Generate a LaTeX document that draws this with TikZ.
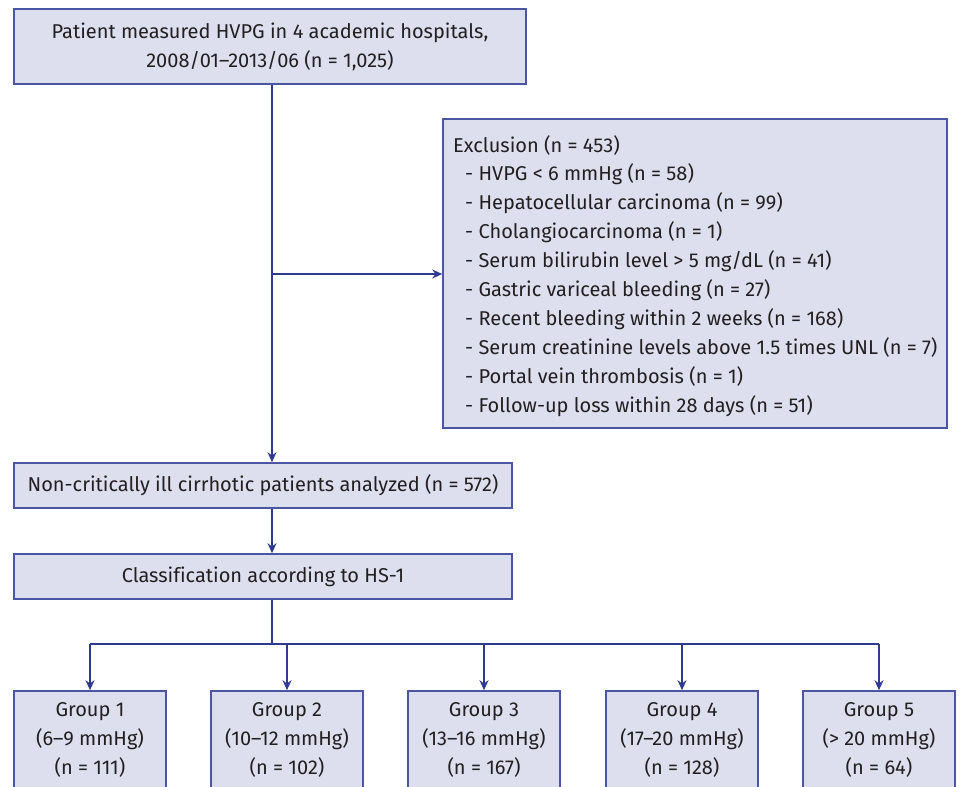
\documentclass[tikz,border=0pt]{standalone}
\usepackage{fontspec}
\setmainfont{Fira Sans}[Ligatures={TeX,NoCommon}]
\usetikzlibrary{arrows.meta}
\definecolor{boxfill}{HTML}{DEDFEE}
\definecolor{boxline}{HTML}{4B56A3}
\definecolor{arrowc}{HTML}{2E3A8F}
\definecolor{txt}{HTML}{231F20}
\begin{document}
\begin{tikzpicture}[x=1pt,y=-1pt,
  box/.style={draw=boxline,fill=boxfill,line width=1.6pt,inner sep=0pt,text=txt,
    font=\fontsize{20}{28.8}\selectfont,align=center},
  line/.style={text=txt,font=\fontsize{20}{28.8}\selectfont,inner sep=0pt,anchor=base west},
  conn/.style={draw=arrowc,line width=1.8pt},
  arr/.style={conn,-{Stealth[length=10pt,width=9pt]}}]
\useasboundingbox (0,0) rectangle (978,787);
\begin{scope}
\clip (0,0) rectangle (978,787);
% boxes
\node[box,minimum width=512pt,minimum height=75pt] (top) at (270,46.5)
  {Patient measured HVPG in 4 academic hospitals,\\2008/01–2013/06 (n = 1,025)};
\node[box,minimum width=504pt,minimum height=309pt] (excl) at (695,273.5) {};
\node[box,minimum width=498pt,minimum height=45pt] (nc) at (263,485.5)
  {Non-critically ill cirrhotic patients analyzed (n = 572)};
\node[box,minimum width=498pt,minimum height=45pt] (cls) at (263,576.5)
  {Classification according to HS-1};
\node[box,minimum width=152pt,minimum height=98pt] (g1) at (90,740)
  {Group 1\\(6–9 mmHg)\\(n = 111)};
\node[box,minimum width=152pt,minimum height=98pt] (g2) at (287,740)
  {Group 2\\(10–12 mmHg)\\(n = 102)};
\node[box,minimum width=152pt,minimum height=98pt] (g3) at (484,740)
  {Group 3\\(13–16 mmHg)\\(n = 167)};
\node[box,minimum width=152pt,minimum height=98pt] (g4) at (682,740)
  {Group 4\\(17–20 mmHg)\\(n = 128)};
\node[box,minimum width=152pt,minimum height=98pt] (g5) at (879,740)
  {Group 5\\(> 20 mmHg)\\(n = 64)};
\end{scope}
% exclusion text
\node[line] (e0) at (453,152) {Exclusion (n = 453)};
\node[line] (e1) at (465,180.9) {- HVPG < 6 mmHg (n = 58)};
\node[line] (e2) at (465,209.8) {- Hepatocellular carcinoma (n = 99)};
\node[line] (e3) at (465,238.7) {- Cholangiocarcinoma (n = 1)};
\node[line] (e4) at (465,267.6) {- Serum bilirubin level > 5 mg/dL (n = 41)};
\node[line] (e5) at (465,296.5) {- Gastric variceal bleeding (n = 27)};
\node[line] (e6) at (465,325.4) {- Recent bleeding within 2 weeks (n = 168)};
\node[line] (e7) at (465,354.3) {- Serum creatinine levels above 1.5 times UNL (n = 7)};
\node[line] (e8) at (465,383.2) {- Portal vein thrombosis (n = 1)};
\node[line] (e9) at (465,412.1) {- Follow-up loss within 28 days (n = 51)};
% connectors
\coordinate (trunk) at (272,0);
\coordinate (split) at (272,274);
\coordinate (branch) at (272,644);
\draw[arr] (top.south -| trunk) -- (nc.north -| trunk);
\draw[arr] (split) -- (split -| excl.west);
\draw[arr] (nc.south -| trunk) -- (cls.north -| trunk);
\draw[conn] (cls.south -| trunk) -- (branch);
\draw[conn] (g1.north |- branch) -- (g5.north |- branch);
\foreach \g in {g1,g2,g3,g4,g5}
  \draw[arr] (\g.north |- branch) -- (\g.north);
\end{tikzpicture}
\end{document}
